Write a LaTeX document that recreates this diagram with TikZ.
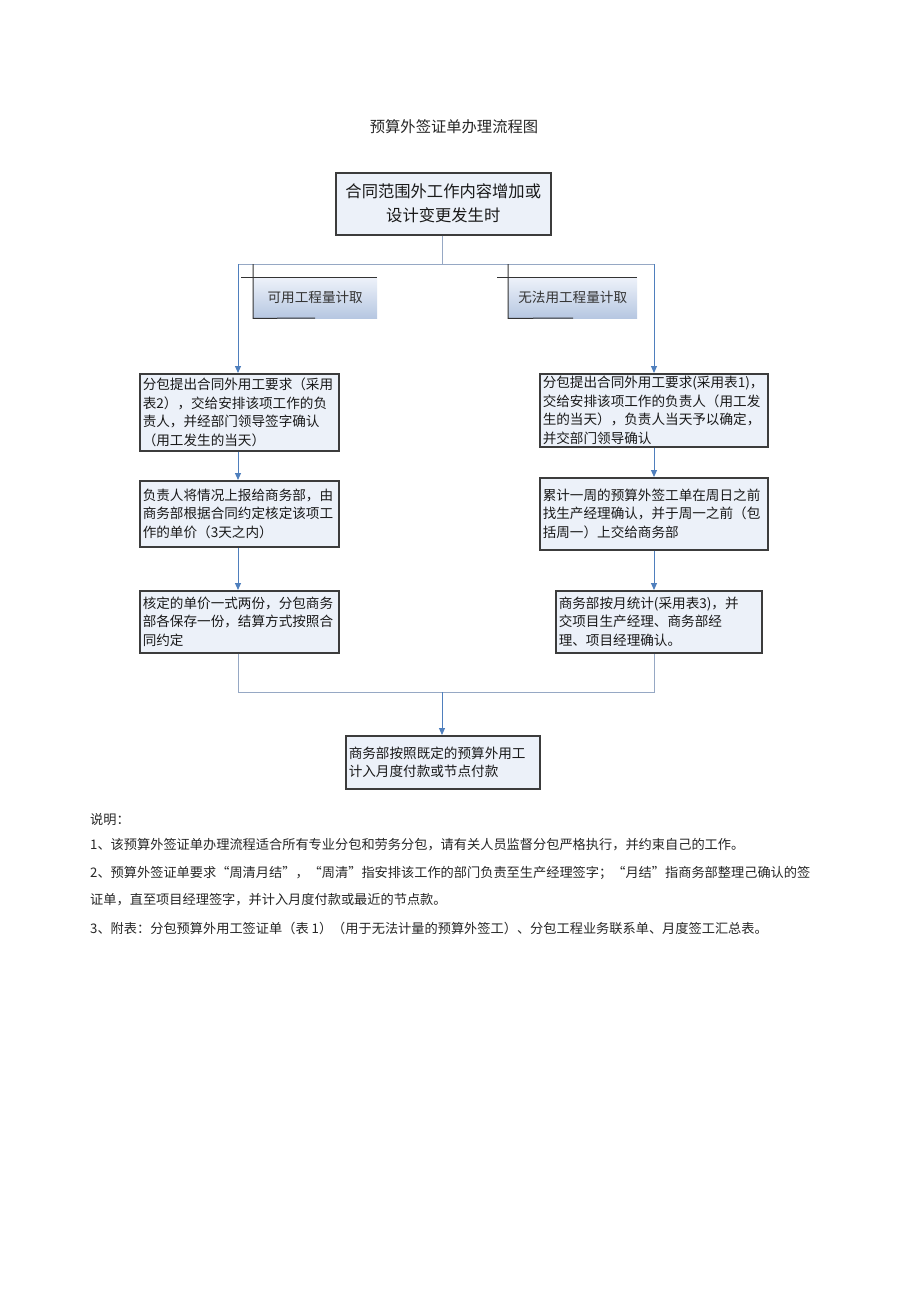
\documentclass[tikz,border=0pt]{standalone}
\usepackage{fontspec}
\setmainfont{Noto Sans CJK SC}
\usetikzlibrary{arrows.meta}
\definecolor{boxfill}{RGB}{236,241,249}
\definecolor{boxline}{RGB}{60,60,60}
\definecolor{arrline}{RGB}{79,127,189}
\definecolor{plainline}{RGB}{150,168,196}
\definecolor{tagtop}{RGB}{238,242,250}
\definecolor{tagbot}{RGB}{182,199,225}
\begin{document}
\begin{tikzpicture}[x=1pt,y=-1pt,
  box/.style={draw=boxline, line width=1.5pt, fill=boxfill, inner xsep=3pt, inner ysep=0pt,
    align=left, anchor=north west, font=\fontsize{13.6}{18.7}\selectfont, text=black!90},
  arr/.style={draw=arrline, line width=1pt, -{Triangle[width=6pt,length=7pt]}},
  plain/.style={draw=plainline, line width=1pt},
  tagline/.style={draw=black!80, line width=1pt},
  tag/.style={top color=tagtop, bottom color=tagbot, anchor=north west, inner sep=0pt,
    minimum height=41pt, font=\fontsize{13.6}{16}\selectfont, text=black!80},
  note/.style={anchor=west, inner sep=0pt, font=\fontsize{13.2}{16}\selectfont, text=black!85}]
\useasboundingbox (0,0) rectangle (920,1301);
\fill[white] (0,0) rectangle (920,1301);

\node[font=\fontsize{15.3}{18}\selectfont, text=black!85] (title) at (454,127) {预算外签证单办理流程图};

\node[box, align=center, font=\fontsize{16.3}{24}\selectfont, minimum width=215pt, minimum height=62pt, text width=209pt] (top) at (335,172)
  {合同范围外工作内容增加或\\设计变更发生时};

\node[tag, minimum width=124pt] (tagL) at (253,277) {可用工程量计取};
\node[tag, minimum width=129pt] (tagR) at (508,277) {无法用工程量计取};

\node[box, minimum width=199pt, minimum height=77pt, text width=193pt] (l1) at (139,373)
  {分包提出合同外用工要求（采用\\表2），交给安排该项工作的负\\责人，并经部门领导签字确认\\（用工发生的当天）};
\node[box, minimum width=199pt, minimum height=66pt, text width=193pt] (l2) at (139,480)
  {负责人将情况上报给商务部，由\\商务部根据合同约定核定该项工\\作的单价（3天之内）};
\node[box, minimum width=199pt, minimum height=62pt, text width=193pt] (l3) at (139,590)
  {核定的单价一式两份，分包商务\\部各保存一份，结算方式按照合\\同约定};

\node[box, minimum width=228pt, minimum height=73pt, text width=222pt] (r1) at (539,373)
  {分包提出合同外用工要求(采用表1)，\\交给安排该项工作的负责人（用工发\\生的当天），负责人当天予以确定，\\并交部门领导确认};
\node[box, minimum width=228pt, minimum height=72pt, text width=222pt] (r2) at (539,477)
  {累计一周的预算外签工单在周日之前\\找生产经理确认，并于周一之前（包\\括周一）上交给商务部};
\node[box, minimum width=206pt, minimum height=62pt, text width=200pt] (r3) at (555,590)
  {商务部按月统计(采用表3)，并\\交项目生产经理、商务部经\\理、项目经理确认。};

\node[box, minimum width=194pt, minimum height=53pt, text width=188pt] (bt) at (345,735)
  {商务部按照既定的预算外用工\\计入月度付款或节点付款};

% connector coordinates
\coordinate (xl) at (238,0);
\coordinate (xr) at (654,0);
\coordinate (xc) at (442,0);
\coordinate (split) at (442,264);
\coordinate (splitL) at (238,264);
\coordinate (splitR) at (654,264);
\coordinate (jL) at (238,692);
\coordinate (jR) at (654,692);
\coordinate (jC) at (442,692);

\draw[plain] (top.south -| xc) -- (split);
\draw[plain] (splitL) -- (splitR);
\draw[arr] (splitL) -- (l1.north -| xl);
\draw[arr] (splitR) -- (r1.north -| xr);
\draw[arr] (l1.south -| xl) -- (l2.north -| xl);
\draw[arr] (l2.south -| xl) -- (l3.north -| xl);
\draw[arr] (r1.south -| xr) -- (r2.north -| xr);
\draw[arr] (r2.south -| xr) -- (r3.north -| xr);
\draw[plain] (l3.south -| xl) -- (jL) -- (jR) -- (r3.south -| xr);
\draw[arr] (jC) -- (bt.north -| xc);

% tag outlines
\draw[tagline] (241,277) -- (tagL.north east);
\draw[tagline] (tagL.south west |- splitL) -- (tagL.south west) -- (315,318);
\draw[tagline] (497,277) -- (tagR.north east);
\draw[tagline] (tagR.south west |- splitR) -- (tagR.south west) -- (573,318);

% notes
\node[note] (n0) at (90,820) {说明：};
\node[note] (n1) at (90,845) {1、该预算外签证单办理流程适合所有专业分包和劳务分包，请有关人员监督分包严格执行，并约束自己的工作。};
\node[note] (n2) at (90,873) {2、预算外签证单要求“周清月结”，“周清”指安排该工作的部门负责至生产经理签字；“月结”指商务部整理己确认的签};
\node[note] (n3) at (90,900) {证单，直至项目经理签字，并计入月度付款或最近的节点款。};
\node[note] (n4) at (90,928) {3、附表：分包预算外用工签证单（表 1）（用于无法计量的预算外签工）、分包工程业务联系单、月度签工汇总表。};
\end{tikzpicture}
\end{document}
